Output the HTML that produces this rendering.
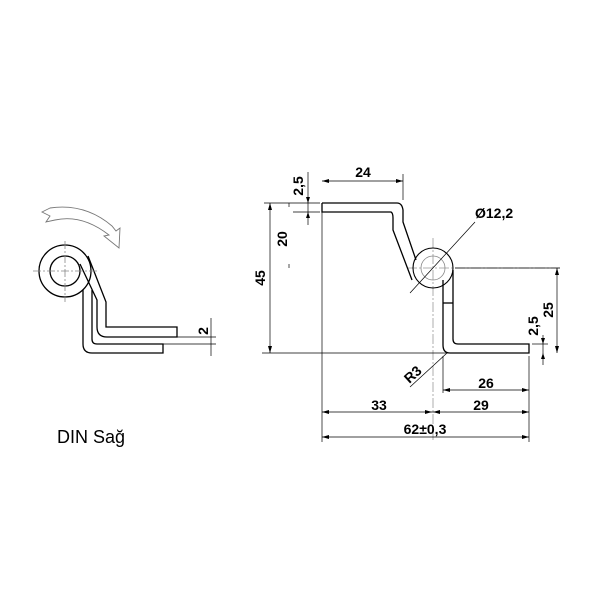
<!DOCTYPE html>
<html><head><style>body{margin:0;background:#fff}svg{display:block}</style></head><body>
<svg width="601" height="600" viewBox="0 0 601 600" xmlns="http://www.w3.org/2000/svg" font-family="Liberation Sans, Arial, sans-serif">
<rect width="601" height="600" fill="#fff"/>
<!-- LEFT VIEW -->
<g fill="none" stroke="#000" stroke-width="1.3">
<path d="M42,212 L50,208 Q85,203 112,226 L116,231 L120,228 L119,248 L104,236 L109,235 Q82,214 55,220 L46,222 L50,216 Z" stroke="#777" stroke-width="0.9"/>
<circle cx="65" cy="271" r="26"/>
<circle cx="65" cy="271" r="15"/>
<path d="M83,290 L83,344 Q83,353 92,353 L163,353 L163,344 L97,344 Q92,344 92,339 L92,290"/>
<path d="M80,264 L97,300 L97,327 Q97,337 107,337 L177,337 L177,327 L106,327 L106,302 L88,256"/>
</g>
<g stroke="#888" stroke-width="0.8" stroke-dasharray="8,2,2,2">
<line x1="65" y1="241" x2="65" y2="302"/>
<line x1="33" y1="271" x2="98" y2="271"/>
</g>
<g stroke="#000" stroke-width="0.7">
<line x1="177" y1="337" x2="216" y2="337"/>
<line x1="163" y1="344" x2="216" y2="344"/>
<line x1="211" y1="318" x2="211" y2="356"/>
</g>
<text x="208" y="331" font-size="14" font-weight="bold" transform="rotate(-90 208 331)" text-anchor="middle">2</text>
<text x="57" y="443" font-size="18">DIN Sağ</text>
<!-- RIGHT VIEW -->
<g stroke="#999" stroke-width="0.8" stroke-dasharray="10,2,2,2" fill="none">
<line x1="433" y1="238" x2="433" y2="442"/>
<line x1="407" y1="268" x2="560" y2="268"/>
<circle cx="433" cy="268" r="12" stroke-dasharray="none" stroke="#888"/>
</g>
<circle cx="433" cy="268" r="20" fill="none" stroke="#000" stroke-width="1.1"/>
<g fill="none" stroke="#000" stroke-width="1.3">
<path d="M322,203 L397,203 Q402,203 403,210 L403,222 L416,260"/>
<path d="M322,203 L322,212 L391,212 Q393,213 393,218 L393,230 L412,280"/>
<path d="M443,280 L443,345 Q443,353 450,353 L529,353 L529,344 L458,344 Q453,344 453,339 L453,270"/>
<line x1="443" y1="303" x2="453" y2="303"/>
</g>
<g stroke="#000" stroke-width="0.7" fill="none">
<line x1="322" y1="203" x2="322" y2="442"/>
<line x1="403" y1="174" x2="403" y2="200"/>
<line x1="529" y1="356" x2="529" y2="442"/>
<line x1="443" y1="356" x2="443" y2="393"/>
<line x1="262" y1="353" x2="470" y2="353"/>
<line x1="264" y1="203" x2="320" y2="203"/>
<line x1="293" y1="212" x2="320" y2="212"/>
<line x1="455" y1="268" x2="560" y2="268"/>
<line x1="532" y1="344" x2="548" y2="344"/>
<!-- 24 -->
<line x1="322" y1="181" x2="403" y2="181"/>
<!-- 45 -->
<line x1="270" y1="203" x2="270" y2="353"/>
<!-- 2,5 top -->
<line x1="308" y1="172" x2="308" y2="225"/>
<!-- 20 dashes -->
<line x1="289" y1="203" x2="289" y2="207"/>
<line x1="289" y1="264" x2="289" y2="268"/>
<!-- 25 -->
<line x1="557" y1="268" x2="557" y2="353"/>
<!-- 2,5 right -->
<line x1="543" y1="335" x2="543" y2="365"/>
<!-- 26 -->
<line x1="443" y1="390" x2="529" y2="390"/>
<!-- 33/29 -->
<line x1="322" y1="412" x2="529" y2="412"/>
<!-- 62 -->
<line x1="322" y1="437" x2="529" y2="437"/>
<!-- leaders -->
<line x1="410" y1="293" x2="475" y2="222"/>
<line x1="410" y1="387" x2="447" y2="353"/>
</g>
<g fill="#000">
<path d="M322,181 l7,-2 v4z M403,181 l-7,-2 v4z"/>
<path d="M270,203 l-2,7 h4z M270,353 l-2,-7 h4z"/>
<path d="M557,268 l-2,7 h4z M557,353 l-2,-7 h4z"/>
<path d="M443,390 l7,-2 v4z M529,390 l-7,-2 v4z"/>
<path d="M322,412 l7,-2 v4z M432,412 l-7,-2 v4z M433,412 l7,-2 v4z M529,412 l-7,-2 v4z"/>
<path d="M322,437 l7,-2 v4z M529,437 l-7,-2 v4z"/>
<path d="M308,203 l-2,-6 h4z M308,212 l-2,6 h4z"/>
<path d="M543,344 l-2,-6 h4z M543,353 l-2,6 h4z"/>
</g>
<g font-size="14" font-weight="bold" fill="#000">
<text x="363" y="177" text-anchor="middle">24</text>
<text x="265" y="278" text-anchor="middle" transform="rotate(-90 265 278)">45</text>
<text x="287" y="239" text-anchor="middle" transform="rotate(-90 287 239)">20</text>
<text x="303" y="186" text-anchor="middle" transform="rotate(-90 303 186)">2,5</text>
<text x="553" y="310" text-anchor="middle" transform="rotate(-90 553 310)">25</text>
<text x="538" y="326" text-anchor="middle" transform="rotate(-90 538 326)">2,5</text>
<text x="486" y="388" text-anchor="middle">26</text>
<text x="379" y="410" text-anchor="middle">33</text>
<text x="481" y="410" text-anchor="middle">29</text>
<text x="425" y="434" text-anchor="middle">62±0,3</text>
<text x="475" y="218">Ø12,2</text>
<text x="416" y="378" text-anchor="middle" transform="rotate(-42 416 378)">R3</text>
</g>
</svg>
</body></html>
